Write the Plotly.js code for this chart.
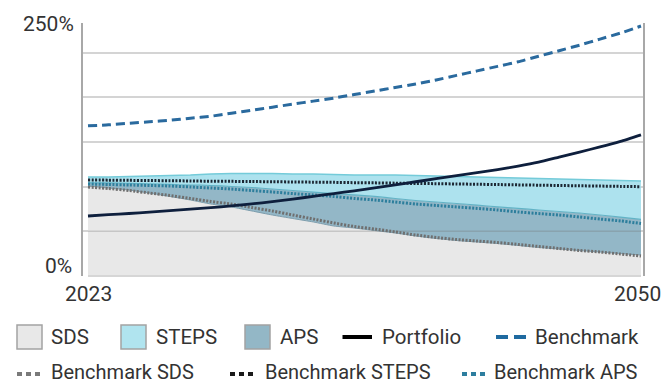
<!DOCTYPE html>
<html>
<head>
<meta charset="utf-8">
<script src="https://cdn.plot.ly/plotly-3.0.1.min.js"></script>
<style>html,body{margin:0;padding:0;background:#fff;}#chart{width:667px;height:385px;}</style>
</head>
<body>
<div id="chart"></div>
<script>
// ---- Data (values in %) ----
const years = [2023,2024,2025,2026,2027,2028,2029,2030,2031,2032,2033,2034,2035,2036,2037,2038,2039,2040,2041,2042,2043,2044,2045,2046,2047,2048,2049,2050];
const sds   = [89.3,87.3,85.3,82.3,78.9,75.4,71.4,68.5,64.5,60.5,57.0,53.6,49.6,47.6,45.1,42.7,39.7,37.2,35.2,33.7,32.2,30.3,28.3,26.8,25.3,23.8,22.3,20.8];
const aps   = [92.3,92.3,91.8,91.3,90.8,90.3,89.8,88.8,87.8,86.3,84.8,83.3,81.8,80.4,78.9,76.9,74.9,73.4,71.9,70.4,68.5,67.0,65.5,64.0,62.5,60.5,58.5,56.1];
const steps = [98.2,98.2,98.7,99.2,99.7,100.2,101.2,101.7,101.7,101.7,101.2,101.2,100.7,100.2,100.2,100.2,99.7,99.2,98.7,98.2,97.7,97.2,96.7,96.2,95.7,95.2,94.7,94.2];
const portfolio = [59.5,60.8,62.0,63.3,64.8,66.3,67.8,69.5,71.5,73.8,76.3,79.0,81.8,84.5,87.5,90.5,93.5,96.5,99.5,102.5,105.5,109.0,113.0,118.0,123.0,128.0,133.5,140.0];
const benchmark = [149,150,151.5,153,154.5,156.5,158.5,161.5,164.5,167.5,170.5,173.5,176.5,180,183.5,187,190.5,194.5,199,203.5,208,212.5,218,223.5,229,235,241,248];
const benchSDS   = [88.3,86.8,84.8,82.3,79.9,76.9,73.9,71.4,67.9,64.5,60.5,56.5,52.6,49.1,46.6,43.7,40.7,38.2,36.2,34.7,33.2,31.3,29.3,27.3,25.3,23.8,21.8,19.8];
const benchAPS   = [91.3,90.8,90.3,89.8,89.3,88.3,87.3,86.3,84.8,83.3,81.8,80.4,78.9,76.9,75.4,73.4,71.4,69.9,68.5,67.0,65.5,63.5,62.0,60.5,58.5,56.5,54.6,52.1];
const benchSTEPS = [95.2,95.1,94.9,94.7,94.5,94.3,94.0,93.9,93.7,93.5,93.3,93.1,92.9,92.6,92.4,92.1,91.8,91.6,91.3,91.0,90.7,90.4,90.1,89.8,89.5,89.2,88.9,88.6];
const gridVals = [44.3,88.6,133.0,177.3,221.5];
const yTickLabels = ['0%','250%'];
const xTickLabels = ['2023','2050'];
const legendRow1 = ['SDS','STEPS','APS','Portfolio','Benchmark'];
const legendRow2 = ['Benchmark SDS','Benchmark STEPS','Benchmark APS'];

// ---- Geometry helpers ----
const W = 667, H = 385;
const M = {l:83, r:24, t:23, b:109};
const PW = W - M.l - M.r, PH = H - M.t - M.b;
const px = x => (x - M.l) / PW;
const py = y => (H - M.b - y) / PH;
const FONT = 'Roboto, Arial, sans-serif';
const TXT = '#333333';

const sm = 0.5;
const traces = [
  {x: years, y: sds, type:'scatter', mode:'lines', fill:'tozeroy', fillcolor:'#e8e8e8',
   line:{color:'#7e9dac', width:1, shape:'spline', smoothing:sm}, hoverinfo:'skip'},
  {x: years, y: aps, type:'scatter', mode:'lines', fill:'tonexty', fillcolor:'#93b7c7',
   line:{color:'#62b3c6', width:1.2, shape:'spline', smoothing:sm}, hoverinfo:'skip'},
  {x: years, y: steps, type:'scatter', mode:'lines', fill:'tonexty', fillcolor:'#ade2ee',
   line:{color:'#74cbd9', width:1.5, shape:'spline', smoothing:sm}, hoverinfo:'skip'},
  {x: years, y: benchSDS, type:'scatter', mode:'lines',
   line:{color:'#6f6f6f', width:3, dash:'2px,1.5px', shape:'spline', smoothing:sm}},
  {x: years, y: benchAPS, type:'scatter', mode:'lines',
   line:{color:'#2c7e9c', width:3, dash:'2px,1.5px', shape:'spline', smoothing:sm}},
  {x: years, y: benchSTEPS, type:'scatter', mode:'lines',
   line:{color:'#1c2733', width:3, dash:'2px,1.5px', shape:'spline', smoothing:sm}},
  {x: years, y: benchmark, type:'scatter', mode:'lines',
   line:{color:'#2a6a9e', width:3, dash:'9px,5px', shape:'spline', smoothing:sm}},
  {x: years, y: portfolio, type:'scatter', mode:'lines',
   line:{color:'#0e1f3d', width:2.8, shape:'spline', smoothing:sm}}
];

const x0 = 2023 - (88 - M.l) / 20.48;
const x1 = 2050 + (M.l + PW - 641) / 20.48;

const shapes = [];
const annotations = [];
// grid line visible over the filled areas
shapes.push({type:'line', xref:'x', yref:'y', x0:2023, x1:2050, y0:gridVals[0], y1:gridVals[0],
  line:{color:'rgba(110,110,110,0.28)', width:1.5}, layer:'above'});
// bottom baseline
shapes.push({type:'line', xref:'paper', yref:'paper', x0:px(88), x1:px(641), y0:py(276), y1:py(276),
  line:{color:'#d6d6d6', width:2}, layer:'above'});

// axis labels
annotations.push({xref:'paper', yref:'paper', x:px(76), y:py(24.5), xanchor:'right', yanchor:'middle',
  text:yTickLabels[1], showarrow:false, font:{family:FONT, size:21, color:TXT}});
annotations.push({xref:'paper', yref:'paper', x:px(74), y:py(265.5), xanchor:'right', yanchor:'middle',
  text:yTickLabels[0], showarrow:false, font:{family:FONT, size:21, color:TXT}});
annotations.push({xref:'paper', yref:'paper', x:px(88.5), y:py(293.5), xanchor:'center', yanchor:'middle',
  text:xTickLabels[0], showarrow:false, font:{family:FONT, size:21, color:TXT}});
annotations.push({xref:'paper', yref:'paper', x:px(637.5), y:py(293.5), xanchor:'center', yanchor:'middle',
  text:xTickLabels[1], showarrow:false, font:{family:FONT, size:21, color:TXT}});

// custom legend
const r1 = 337, r2 = 372;
function box(xl, fill){
  shapes.push({type:'rect', xref:'paper', yref:'paper', x0:px(xl), x1:px(xl+25), y0:py(r1-12), y1:py(r1+12),
    fillcolor:fill, line:{color:'#a3a3a3', width:1.5}});
}
function lineSym(xl, xr, y, color, width, dash){
  shapes.push({type:'line', xref:'paper', yref:'paper', x0:px(xl), x1:px(xr), y0:py(y), y1:py(y),
    line:{color:color, width:width, dash:dash}});
}
function label(x, y, t, size){
  annotations.push({xref:'paper', yref:'paper', x:px(x), y:py(y), xanchor:'left', yanchor:'middle',
    text:t, showarrow:false, borderpad:0,
    font:{family:FONT, size:size, color:TXT}});
}
box(17, '#e8e8e8'); label(50, r1, legendRow1[0], 20.5);
box(121, '#b0e4ef'); label(155, r1, legendRow1[1], 20.5);
box(245, '#93b7c6'); label(279, r1, legendRow1[2], 20.5);
lineSym(342.5, 372, r1, '#000000', 4, 'solid'); label(381, r1, legendRow1[3], 20.5);
lineSym(496, 526, r1, '#1f6aa0', 4, '12px,6px'); label(534, r1, legendRow1[4], 20.5);

lineSym(17, 43, r2 + 2, '#7a7a7a', 4, '5px,4px'); label(50, r2, legendRow2[0], 20);
lineSym(230, 256, r2 + 2, '#1a1a1a', 4, '5px,4px'); label(264, r2, legendRow2[1], 20);
lineSym(462, 488, r2 + 2, '#2d7e9f', 4, '5px,4px'); label(493, r2, legendRow2[2], 20);

const layout = {
  width: W, height: H,
  margin: {l:M.l, r:M.r, t:M.t, b:M.b, pad:0},
  paper_bgcolor:'#ffffff', plot_bgcolor:'#ffffff',
  showlegend:false,
  xaxis: {range:[x0, x1], showgrid:false, zeroline:false, showticklabels:false, ticks:'',
          showline:false, fixedrange:true},
  yaxis: {range:[0, PH/1.008], tickvals:gridVals, showticklabels:false, ticks:'',
          gridcolor:'#d4d4d4', gridwidth:2, zeroline:false,
          showline:true, linecolor:'#a8a8a8', linewidth:2, mirror:true, fixedrange:true},
  shapes: shapes,
  annotations: annotations
};

Plotly.newPlot('chart', traces, layout, {displayModeBar:false, staticPlot:true});
</script>
</body>
</html>
